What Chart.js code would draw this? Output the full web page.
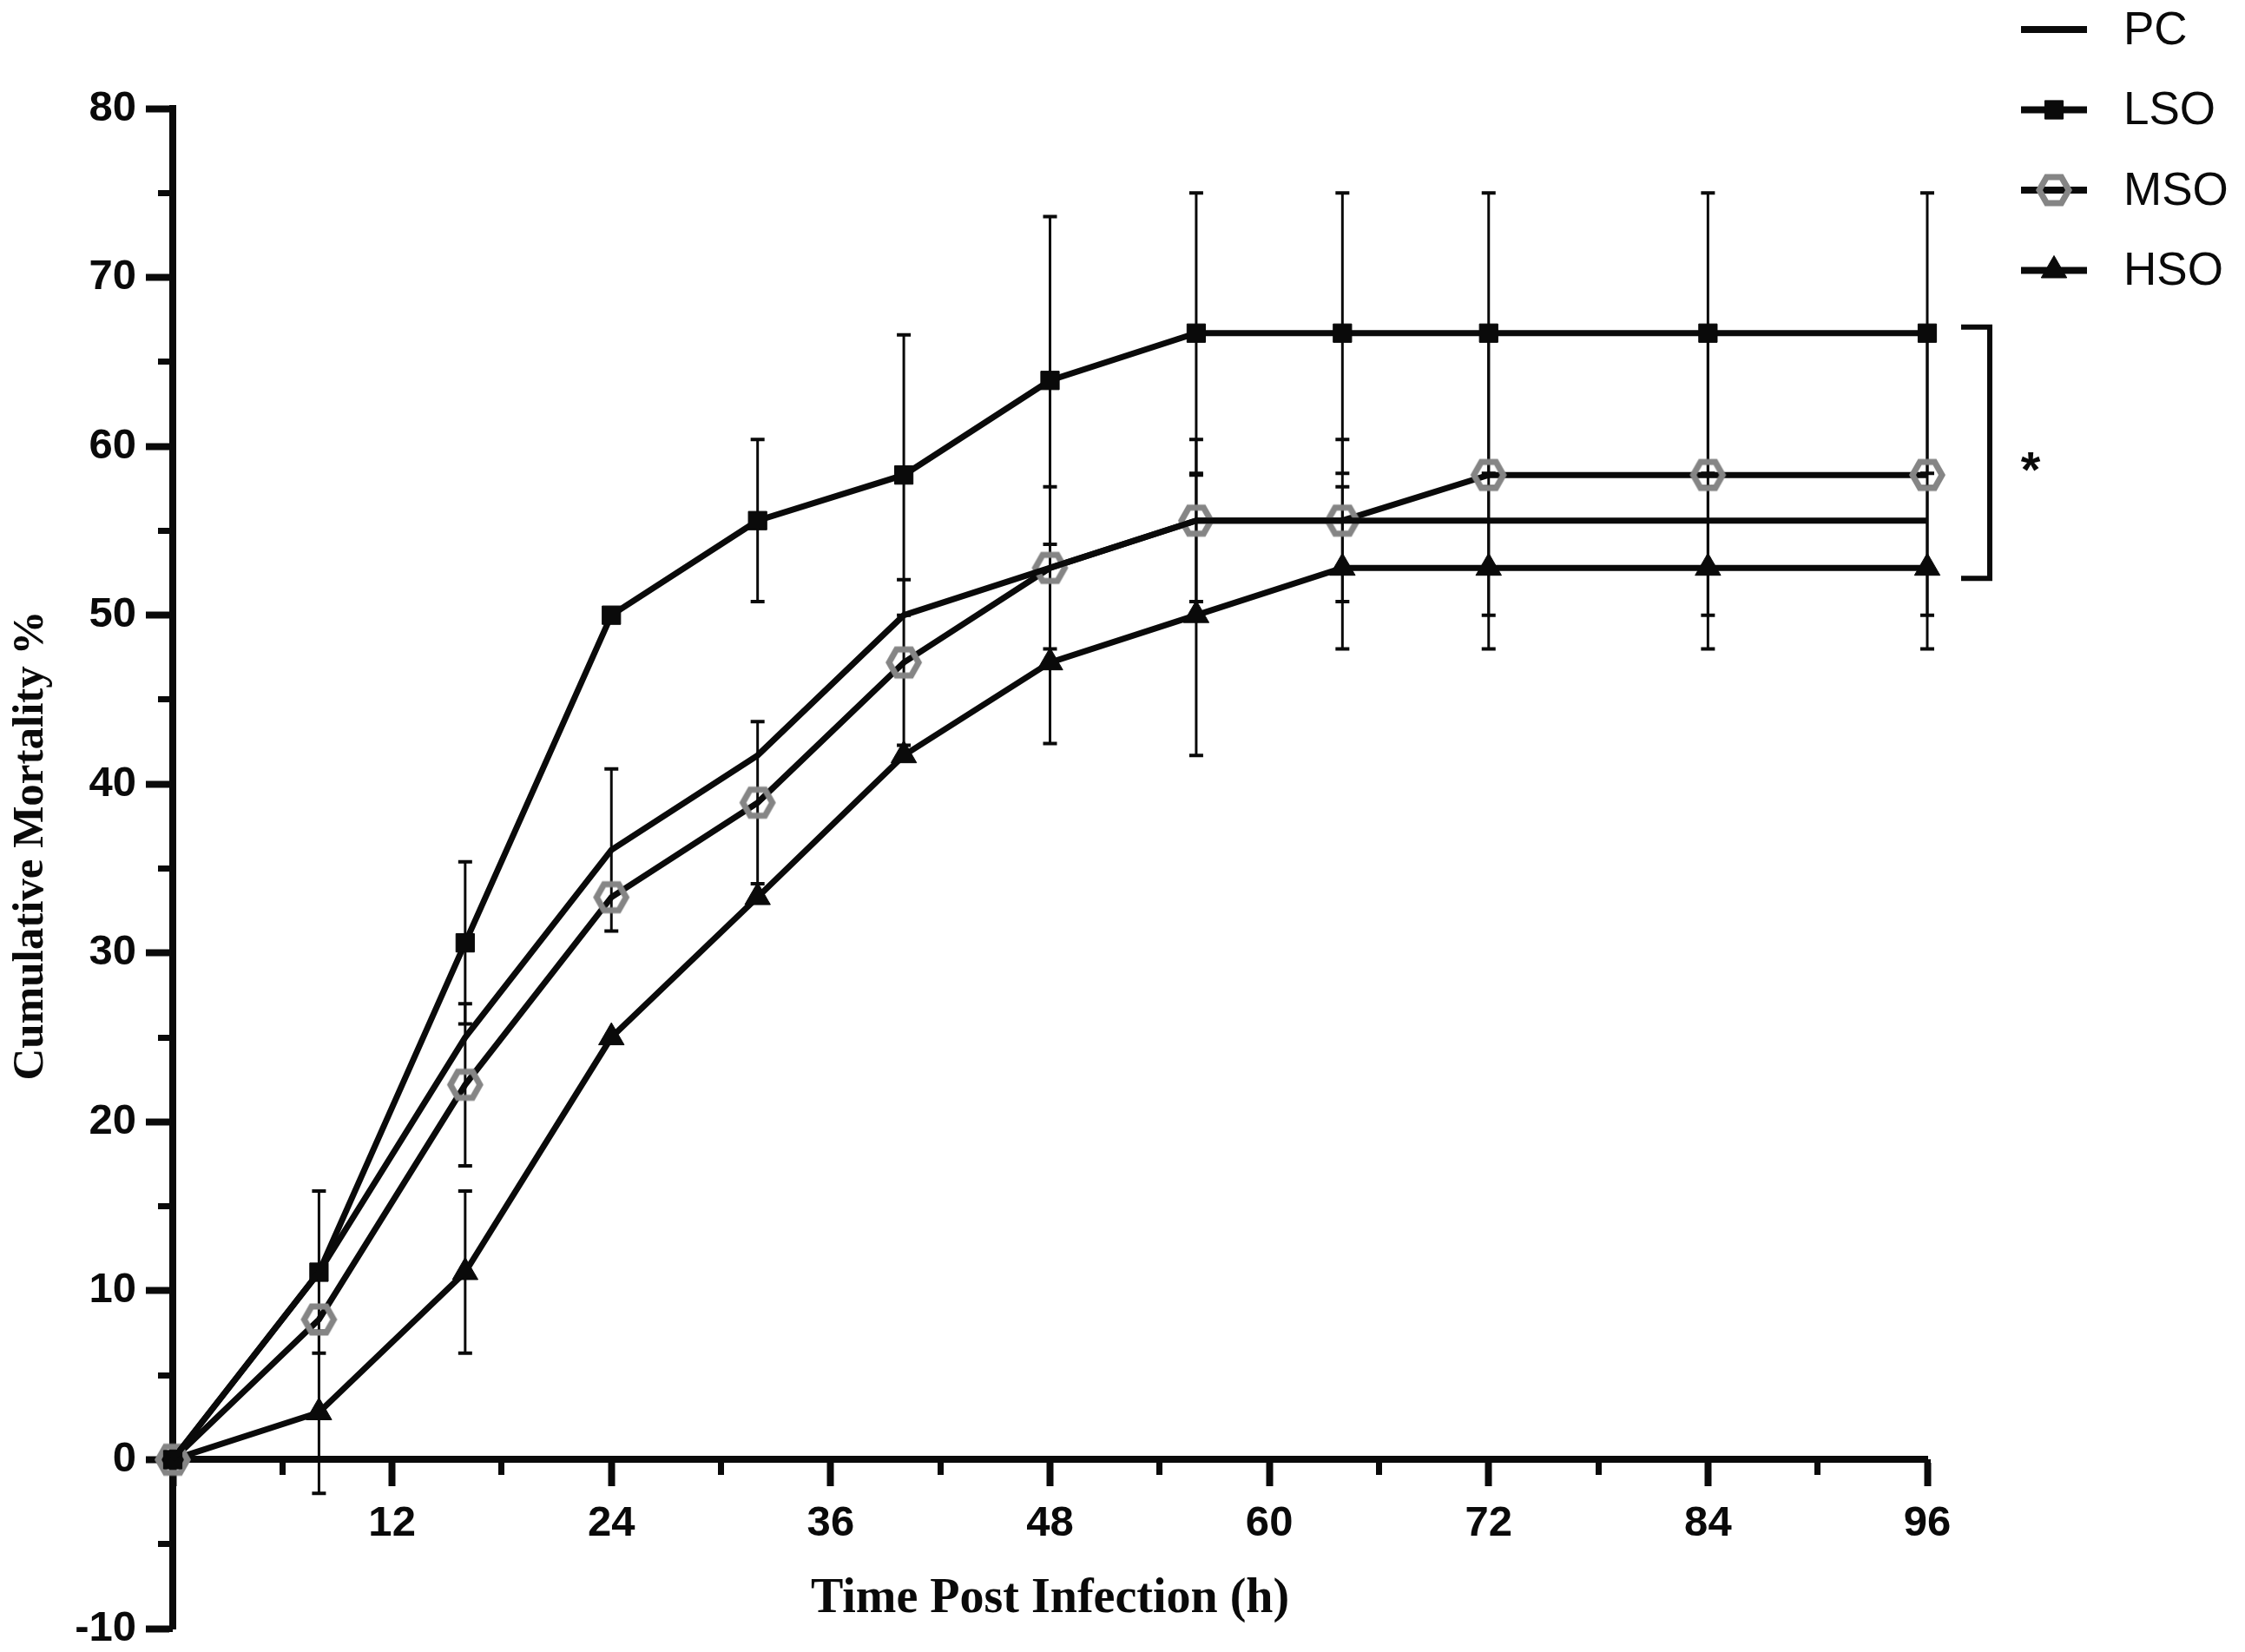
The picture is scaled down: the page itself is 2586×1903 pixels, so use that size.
<!DOCTYPE html>
<html>
<head>
<meta charset="utf-8">
<title>Cumulative Mortality</title>
<script src="https://cdn.jsdelivr.net/npm/chart.js@4.4.1/dist/chart.umd.min.js"></script>
<style>
    html, body { margin: 0; padding: 0; background: #ffffff; }
    #wrap { width: 2586px; height: 1903px; position: relative; }
</style>
</head>
<body>
<div id="wrap"><canvas id="mortalityChart"></canvas></div>
<script>
// ---- data ----
const hours = [0, 8, 16, 24, 32, 40, 48, 56, 64, 72, 84, 96];        // time post infection (h)

const pcValues  = [0, 11.1, 25.0, 36.1, 41.7, 50.0, 52.8, 55.6, 55.6, 55.6, 55.6, 55.6];
const lsoValues = [0, 11.1, 30.6, 50.0, 55.6, 58.3, 63.9, 66.7, 66.7, 66.7, 66.7, 66.7];
const msoValues = [0,  8.3, 22.2, 33.3, 38.9, 47.2, 52.8, 55.6, 55.6, 58.3, 58.3, 58.3];
const hsoValues = [0,  2.8, 11.1, 25.0, 33.3, 41.7, 47.2, 50.0, 52.8, 52.8, 52.8, 52.8];

// +/- error bar half lengths (0 = no bar drawn)
const pcErr  = [0, 0,   0,   4.8, 0,   0,   0,   0,   0,   0,   0,   0];
const lsoErr = [0, 4.8, 4.8, 0,   4.8, 8.3, 9.7, 8.3, 8.3, 8.3, 8.3, 8.3];
const msoErr = [0, 0,   4.8, 0,   4.8, 4.9, 4.8, 4.8, 4.8, 8.3, 8.3, 8.3];
const hsoErr = [0, 4.8, 4.8, 0,   0,   0,   4.8, 8.3, 4.8, 4.8, 4.8, 4.8];

const groupNames = ['PC', 'LSO', 'MSO', 'HSO'];
const xTickLabels = [12, 24, 36, 48, 60, 72, 84, 96];               // labelled hours
const yTickLabels = [-10, 0, 10, 20, 30, 40, 50, 60, 70, 80];

const yTitle = 'Cumulative Mortality %';
const xTitle = 'Time Post Infection (h)';
const sigMark = '*';

// ---- helpers ----
const toPoints = vals => hours.map((h, i) => ({ x: h, y: vals[i] }));

function makeHexagon(w, h, color, lw) {          // grey open hexagon used as point style
    const c = document.createElement('canvas');
    c.width = Math.ceil(w + lw * 2);
    c.height = Math.ceil(h + lw * 2);
    const g = c.getContext('2d');
    const cx = c.width / 2, cy = c.height / 2;
    g.beginPath();
    g.moveTo(cx - w / 2, cy);
    g.lineTo(cx - w / 4, cy - h / 2);
    g.lineTo(cx + w / 4, cy - h / 2);
    g.lineTo(cx + w / 2, cy);
    g.lineTo(cx + w / 4, cy + h / 2);
    g.lineTo(cx - w / 4, cy + h / 2);
    g.closePath();
    g.lineWidth = lw;
    g.strokeStyle = color;
    g.stroke();
    return c;
}
const hexagon = makeHexagon(34, 30, '#858585', 7);

const INK = '#0a0a0a';
const tickFont = { family: "'Liberation Sans Narrow', 'Arial Narrow', 'Liberation Sans', Arial, sans-serif", size: 49, weight: 'bold', lineHeight: 1.2 };

// ---- plugins ----
const errorBars = {                          // vertical error bars with caps
    id: 'errorBars',
    beforeDatasetsDraw(chart) {
        const { ctx, scales: { x, y } } = chart;
        ctx.save();
        ctx.strokeStyle = INK;
        chart.data.datasets.forEach((ds, di) => {
            if (!chart.isDatasetVisible(di)) return;
            ds.data.forEach((p, i) => {
                const e = ds.errors[i];
                if (!e) return;
                const px = x.getPixelForValue(p.x);
                const top = y.getPixelForValue(p.y + e);
                const bot = y.getPixelForValue(p.y - e);
                ctx.lineWidth = 3;
                ctx.beginPath();
                ctx.moveTo(px, top); ctx.lineTo(px, bot);
                ctx.stroke();
                ctx.lineWidth = 4;
                ctx.beginPath();
                ctx.moveTo(px - 8, top); ctx.lineTo(px + 8, top);
                ctx.moveTo(px - 8, bot); ctx.lineTo(px + 8, bot);
                ctx.stroke();
            });
        });
        ctx.restore();
    }
};

const extras = {                             // axis titles, legend, significance bracket
    id: 'extras',
    afterDraw(chart) {
        const { ctx, chartArea, scales: { y } } = chart;
        ctx.save();
        ctx.fillStyle = INK;
        ctx.strokeStyle = INK;

        // axis titles
        ctx.font = "bold 51px 'Liberation Serif', 'Times New Roman', serif";
        ctx.textAlign = 'center';
        ctx.textBaseline = 'middle';
        ctx.save();
        ctx.translate(36, 974);
        ctx.rotate(-Math.PI / 2);
        ctx.fillText(yTitle, 0, 0);
        ctx.restore();
        ctx.font = "bold 56px 'Liberation Serif', 'Times New Roman', serif";
        ctx.fillText(xTitle, (chartArea.left + chartArea.right) / 2, 1843);

        // legend
        ctx.font = "53px 'Liberation Sans', Arial, sans-serif";
        ctx.textAlign = 'left';
        chart.data.datasets.forEach((ds, i) => {
            const ly = 34 + i * 92.5;
            ctx.lineWidth = 8;
            ctx.beginPath();
            ctx.moveTo(2328, ly); ctx.lineTo(2404, ly);
            ctx.stroke();
            if (ds.pointRadius > 0) {
                ctx.save();
                ctx.fillStyle = ds.pointBackgroundColor;
                ctx.strokeStyle = ds.pointBorderColor;
                ctx.lineWidth = 1;
                Chart.helpers.drawPoint(ctx, { pointStyle: ds.pointStyle, radius: ds.pointRadius, rotation: 0, borderWidth: 1 }, 2366, ly);
                ctx.restore();
            }
            ctx.fillText(ds.label, 2446, ly + 2);
        });

        // significance bracket between LSO and HSO end points
        const yTop = y.getPixelForValue(lsoValues[lsoValues.length - 1]) - 7;
        const yBot = y.getPixelForValue(hsoValues[hsoValues.length - 1]) + 12;
        const bx = chartArea.right + 72;
        ctx.lineWidth = 6;
        ctx.beginPath();
        ctx.moveTo(bx - 33, yTop); ctx.lineTo(bx, yTop); ctx.lineTo(bx, yBot); ctx.lineTo(bx - 33, yBot);
        ctx.stroke();
        ctx.font = "bold 58px 'Liberation Sans', Arial, sans-serif";
        ctx.textAlign = 'center';
        ctx.fillText(sigMark, bx + 47, (yTop + yBot) / 2 + 24);
        ctx.restore();
    }
};

// ---- chart ----
const lineStyle = { borderColor: INK, borderWidth: 7, tension: 0, fill: false, clip: false };

new Chart(document.getElementById('mortalityChart'), {
    type: 'line',
    data: {
        datasets: [
            { ...lineStyle, label: groupNames[0], data: toPoints(pcValues),  errors: pcErr,
              pointRadius: 0, pointHoverRadius: 0, pointStyle: 'line' },
            { ...lineStyle, label: groupNames[1], data: toPoints(lsoValues), errors: lsoErr,
              pointStyle: 'rect', pointRadius: 15, pointHoverRadius: 15,
              pointBackgroundColor: INK, pointBorderColor: INK, pointBorderWidth: 1 },
            { ...lineStyle, label: groupNames[2], data: toPoints(msoValues), errors: msoErr,
              pointStyle: hexagon, pointRadius: 20, pointHoverRadius: 20,
              pointBackgroundColor: 'rgba(0,0,0,0)', pointBorderColor: 'rgba(0,0,0,0)' },
            { ...lineStyle, label: groupNames[3], data: toPoints(hsoValues), errors: hsoErr,
              pointStyle: 'triangle', pointRadius: 17, pointHoverRadius: 17,
              pointBackgroundColor: INK, pointBorderColor: INK, pointBorderWidth: 1 }
        ]
    },
    options: {
        responsive: true,
        maintainAspectRatio: false,
        animation: false,
        layout: { padding: { top: 125, right: 366, bottom: 21, left: 0 } },
        plugins: { legend: { display: false }, tooltip: { enabled: false } },
        scales: {
            x: {
                type: 'linear', axis: 'x', position: { y: 0 },
                min: 0, max: 96,
                ticks: {
                    stepSize: 12, color: INK, font: tickFont, padding: 18, maxRotation: 0, autoSkip: false,
                    callback: v => xTickLabels.includes(v) ? String(v) : ''
                },
                grid: { drawOnChartArea: false, drawTicks: true, tickLength: 27, tickWidth: 8, tickColor: INK },
                border: { display: true, width: 8, color: INK }
            },
            xMinor: {
                type: 'linear', axis: 'x', position: { y: 0 },
                min: 0, max: 96,
                ticks: { stepSize: 6, display: false },
                grid: { drawOnChartArea: false, drawTicks: true, tickLength: 18, tickWidth: 7, tickColor: INK },
                border: { display: false }
            },
            y: {
                type: 'linear', axis: 'y', position: 'left',
                min: -10, max: 80,
                afterFit: s => { s.width = 199; s.paddingTop = 0; s.paddingBottom = 0; },
                ticks: {
                    stepSize: 10, color: INK, font: tickFont, padding: 11,
                    callback: v => yTickLabels.includes(v) ? String(v) : ''
                },
                grid: { drawOnChartArea: false, drawTicks: true, tickLength: 31, tickWidth: 8, tickColor: INK },
                border: { display: true, width: 8, color: INK }
            },
            yMinor: {
                type: 'linear', axis: 'y', position: { x: 0 },
                min: -10, max: 80,
                ticks: { stepSize: 5, display: false },
                grid: { drawOnChartArea: false, drawTicks: true, tickLength: 17, tickWidth: 7, tickColor: INK },
                border: { display: false }
            }
        }
    },
    plugins: [errorBars, extras]
});
</script>
</body>
</html>
